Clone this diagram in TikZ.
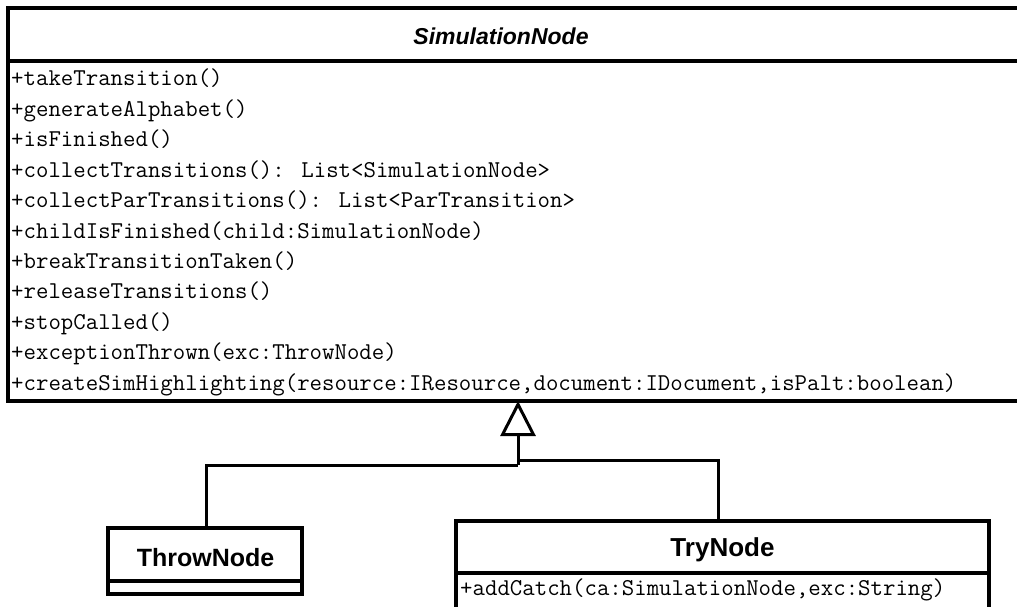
\documentclass[tikz,border=0pt]{standalone}
\usepackage{fontspec}
\setmainfont{Liberation Sans}
\usetikzlibrary{arrows.meta}
\tikzset{
  classbox/.style={draw, line width=3.5pt, rectangle, outer sep=0pt, inner sep=0pt, anchor=north west},
  divider/.style={line width=3.5pt},
  classname/.style={font=\fontsize{25}{29}\selectfont\bfseries, inner sep=0pt, anchor=base},
  absname/.style={classname, font=\fontsize{23}{27}\selectfont\bfseries\itshape},
  meth/.style={font=\ttfamily\fontsize{24.15}{28}\selectfont, inner sep=0pt, anchor=base west},
  conn/.style={line width=3pt},
  inherit/.style={conn, line join=miter, -{Triangle[open, length=35pt, width=35pt]}},
}
\begin{document}
\begin{tikzpicture}[x=1pt, y=-1pt]
\clip (0,0) rectangle (1017,607);
\fill[white] (0,0) rectangle (1017,607);
% SimulationNode
\node[classbox, minimum width=1040pt, minimum height=393pt] (sim) at (8,8) {};
\draw[divider] (8,61) -- (1048,61);
\node[absname] (simname) at (501,45) {SimulationNode};
\node[meth] (m1) at (11,86) {+takeTransition()};
\node[meth] (m2) at (11,116.4) {+generateAlphabet()};
\node[meth] (m3) at (11,146.8) {+isFinished()};
\node[meth] (m4) at (11,177.2) {+collectTransitions(): List<SimulationNode>};
\node[meth] (m5) at (11,207.6) {+collectParTransitions(): List<ParTransition>};
\node[meth] (m6) at (11,238) {+childIsFinished(child:SimulationNode)};
\node[meth] (m7) at (11,268.4) {+breakTransitionTaken()};
\node[meth] (m8) at (11,298.8) {+releaseTransitions()};
\node[meth] (m9) at (11,329.2) {+stopCalled()};
\node[meth] (m10) at (11,359.6) {+exceptionThrown(exc:ThrowNode)};
\node[meth] (m11) at (11,390) {+createSimHighlighting(resource:IResource,document:IDocument,isPalt:boolean)};
% ThrowNode
\node[classbox, line width=3.2pt, minimum width=194pt, minimum height=66pt] (throw) at (108,528) {};
\draw[divider, line width=3.2pt] (108,581) -- (302,581);
\node[classname] (throwname) at (205.5,566) {ThrowNode};
% TryNode
\node[classbox, line width=3.2pt, minimum width=533pt, minimum height=120pt] (try) at (456,521) {};
\draw[divider, line width=3.2pt] (456,573) -- (989,573);
\node[classname, font=\fontsize{26}{30}\selectfont\bfseries] (tryname) at (722.5,556) {TryNode};
\node[meth] (c1) at (460,595) {+addCatch(ca:SimulationNode,exc:String)};
% generalisation
\coordinate (jl) at (518,465);
\coordinate (jr) at (518,460);
\coordinate (tip) at (518,401);
\draw[conn] (throw.north -| 206,0) |- (jl);
\draw[conn] (try.north -| 718,0) |- (jr);
\draw[inherit] (jl) -- (tip);
\end{tikzpicture}
\end{document}
